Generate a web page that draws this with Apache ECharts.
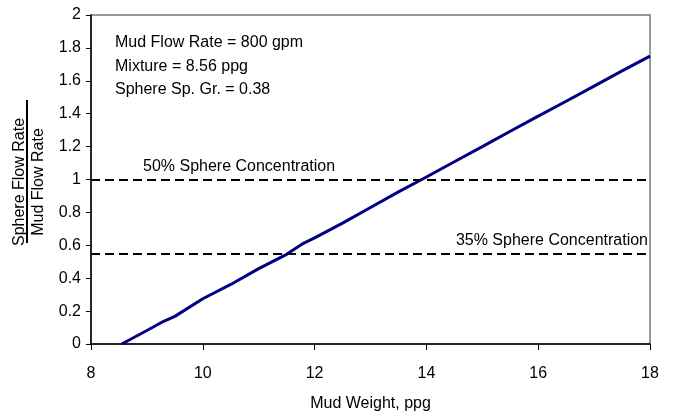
<!DOCTYPE html>
<html><head><meta charset="utf-8">
<script src="https://cdn.jsdelivr.net/npm/echarts@6/dist/echarts.min.js"></script>
<style>html,body{margin:0;padding:0;background:#fff}#c{width:675px;height:418px}</style>
</head><body><div id="c"></div>
<script>
var mudWeight = [8.55, 9, 9.3, 9.5, 10, 10.5, 11, 11.5, 11.8, 12, 12.5, 13, 13.5, 14, 14.5, 15, 15.5, 16, 16.5, 17, 17.5, 18];
var flowRatio = [0, 0.082, 0.138, 0.168, 0.275, 0.362, 0.458, 0.545, 0.612, 0.645, 0.735, 0.83, 0.925, 1.015, 1.108, 1.2, 1.293, 1.385, 1.476, 1.568, 1.66, 1.75];
var refLevels = [1.0, 0.545];
var refLabels = ['50% Sphere Concentration', '35% Sphere Concentration'];
var notes = ['Mud Flow Rate = 800 gpm', 'Mixture = 8.56 ppg', 'Sphere Sp. Gr. = 0.38'];
var xTicks = [8, 10, 12, 14, 16, 18];

var FONT = '"Liberation Sans Narrow", "Liberation Sans", Arial, sans-serif';
var chart = echarts.init(document.getElementById('c'), null, {renderer: 'canvas'});
var data = mudWeight.map(function (x, i) { return [x, flowRatio[i]]; });
chart.setOption({
  animation: false,
  backgroundColor: '#fff',
  grid: {left: 91, right: 25, top: 15, bottom: 74, show: true, borderColor: '#777777', borderWidth: 1.5},
  xAxis: {
    type: 'value', min: 8, max: 18, interval: 2,
    name: 'Mud Weight, ppg', nameLocation: 'middle', nameGap: 52,
    nameTextStyle: {fontFamily: FONT, fontSize: 16, color: '#000'},
    axisLine: {show: true, lineStyle: {color: '#000', width: 1.5}},
    axisTick: {show: true, length: 6, lineStyle: {color: '#000'}},
    axisLabel: {fontFamily: FONT, fontSize: 16, color: '#000', margin: 22,
      formatter: function (v) { return xTicks.indexOf(v) >= 0 ? String(v) : ''; }},
    splitLine: {show: false}
  },
  yAxis: {
    type: 'value', min: 0, max: 2, interval: 0.2,
    axisLine: {show: true, lineStyle: {color: '#000', width: 1.5}},
    axisTick: {show: true, length: 5, lineStyle: {color: '#000'}},
    axisLabel: {fontFamily: FONT, fontSize: 16, color: '#000', margin: 10,
      formatter: function (v) { return String(+v.toFixed(1)); }},
    splitLine: {show: false}
  },
  series: [{
    type: 'line', data: data, showSymbol: false, smooth: false,
    lineStyle: {color: '#000080', width: 3},
    markLine: {
      silent: true, symbol: 'none',
      lineStyle: {color: '#000', type: [9, 5], width: 2},
      data: [
        {yAxis: refLevels[0], label: {show: true, position: 'insideStartTop', formatter: refLabels[0], distance: [52, 5], fontFamily: FONT, fontSize: 16, color: '#000'}},
        {yAxis: refLevels[1], label: {show: true, position: 'insideEndTop', formatter: refLabels[1], distance: [2, 5], fontFamily: FONT, fontSize: 16, color: '#000'}}
      ]
    }
  }],
  graphic: [
    {type: 'text', left: 115, top: 31, style: {text: notes.join('\n'), font: '16px ' + FONT, fill: '#000', lineHeight: 23.5}},
    {type: 'text', x: 20, y: 182, rotation: Math.PI / 2, style: {text: 'Sphere Flow Rate', font: '16px ' + FONT, fill: '#000', align: 'center', verticalAlign: 'middle'}},
    {type: 'line', shape: {x1: 27, y1: 100, x2: 27, y2: 243}, style: {stroke: '#000', lineWidth: 2}},
    {type: 'text', x: 39, y: 182, rotation: Math.PI / 2, style: {text: 'Mud Flow Rate', font: '16px ' + FONT, fill: '#000', align: 'center', verticalAlign: 'middle'}}
  ]
});
</script>
</body></html>
